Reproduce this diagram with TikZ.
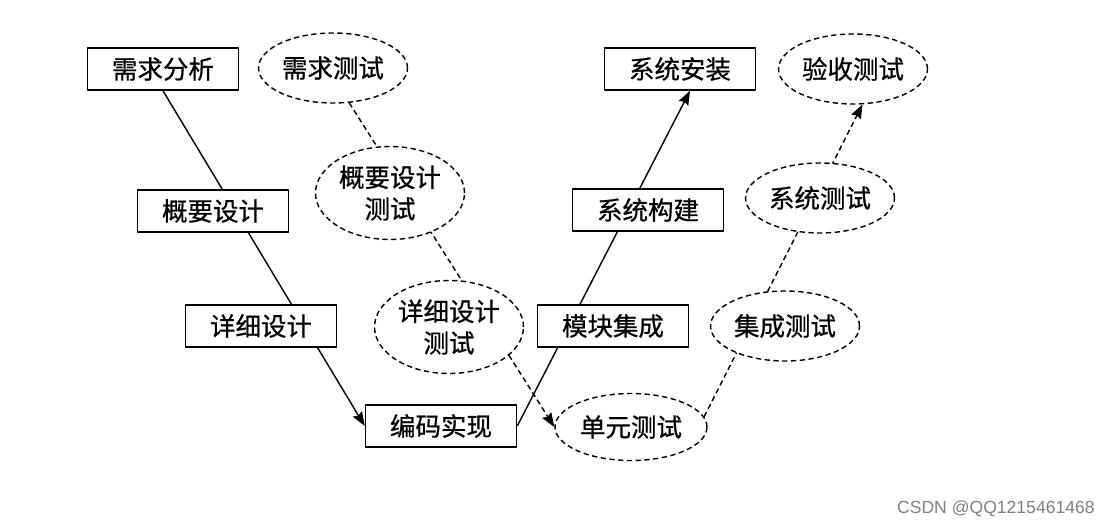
\documentclass[tikz,border=0pt]{standalone}
\usepackage{fontspec}
\newfontfamily\cjk[FakeBold=0.7]{Noto Sans CJK SC}
\setsansfont{Liberation Sans}
\usetikzlibrary{shapes.geometric,backgrounds,arrows.meta}
\tikzset{
	stage/.style={draw, fill=white, line width=0.9pt, minimum width=3.02cm, minimum height=0.84cm, inner sep=0pt},
	check/.style={ellipse, draw, fill=white, line width=0.8pt, dash pattern=on 3pt off 2pt, minimum width=2.98cm, minimum height=1.4cm, inner sep=0pt, align=center},
	twoline/.style={minimum height=1.86cm},
	flow/.style={line width=0.8pt},
	testflow/.style={line width=0.8pt, dash pattern=on 3pt off 2pt},
}
\begin{document}
\begin{tikzpicture}[x=0.02cm, y=-0.02cm, font=\cjk\fontsize{14.5}{18}\selectfont, line join=round, >={Stealth[length=8pt,width=6pt,inset=1pt]}]
	\useasboundingbox (0,0) rectangle (1111,527);
	% development side (boxes)
	\node[stage] (reqa) at (163,69) {需求分析};
	\node[stage] (hld) at (213,211) {概要设计};
	\node[stage] (lld) at (261,326) {详细设计};
	\node[stage] (code) at (441,426) {编码实现};
	\node[stage] (integ) at (613,326) {模块集成};
	\node[stage] (build) at (648,210) {系统构建};
	\node[stage] (inst) at (680,69) {系统安装};
	% test side (ellipses)
	\node[check] (reqt) at (333,68) {需求测试};
	\node[check, twoline] (hldt) at (390,193) {概要设计\\测试};
	\node[check, twoline] (lldt) at (449,327) {详细设计\\测试};
	\node[check, minimum width=3.04cm, minimum height=1.34cm] (unit) at (631,427) {单元测试};
	\node[check] (integt) at (785,326) {集成测试};
	\node[check] (syst) at (820,198) {系统测试};
	\node[check] (acct) at (853,69) {验收测试};
	\begin{scope}[on background layer]
		\draw[flow, ->] (reqa.south) -- (code.west);
		\draw[flow, ->] (code.east) -- ([xshift=0.2cm]inst.south);
		\draw[testflow, ->] (reqt.295) -- (unit.west);
		\draw[testflow, ->] (unit.8) -- (acct.285);
	\end{scope}
	\node[text=gray, font=\sffamily\fontsize{10}{12}\selectfont, anchor=east, inner sep=0pt] (mark) at (1095,509) {CSDN @QQ1215461468};
\end{tikzpicture}
\end{document}
